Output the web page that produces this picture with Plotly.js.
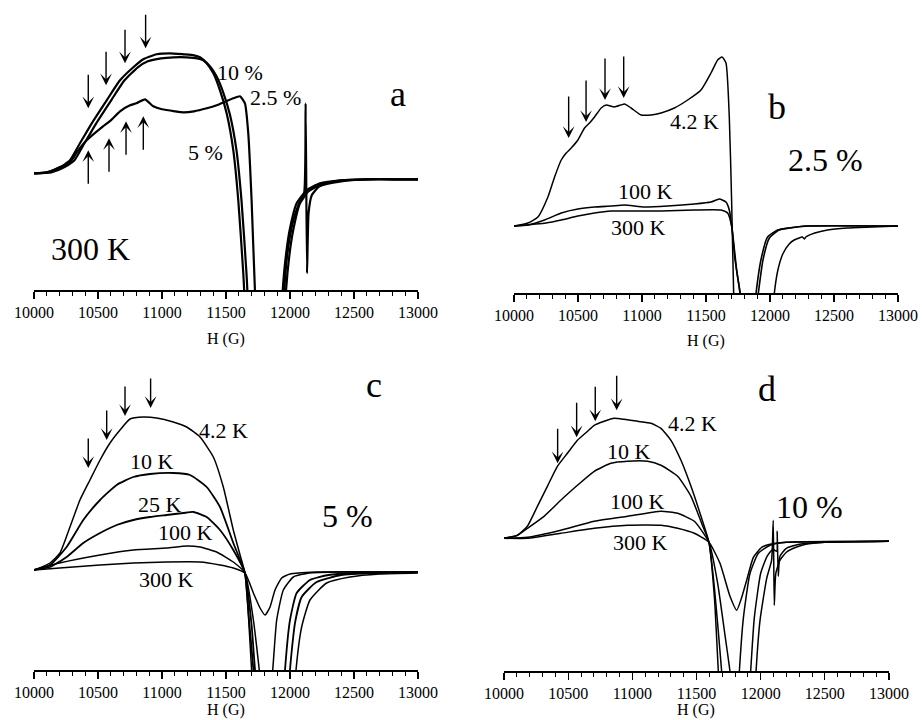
<!DOCTYPE html>
<html><head><meta charset="utf-8">
<script src="https://cdn.plot.ly/plotly-3.0.1.min.js"></script>
<style>html,body{margin:0;padding:0;background:#fff}#chart{width:922px;height:720px}</style>
</head><body><div id="chart"></div>
<script>
// ---------- Panel a (300 K, three concentrations) ----------
const a10H = [10000,10100,10150,10200,10240,10281,10359,10451,10568,10672,10776,10854,10958,11060,11167,11250,11297,11349,11401,11453,11505,11557,11596,11635,11660,11750,11850,11920,11943,11970,12000,12052,12130,12234,12400,12600,12800,13000];
const a10V = [0,1,3,6,9,13,30,50,73,93,106,114,119,120,119,118,116,110,100,83,60,23,-27,-100,-160,-280,-300,-180,-117,-80,-55,-30,-17,-10,-7,-6,-6,-6];
const a5H = [10000,10135,10185,10235,10275,10316,10394,10486,10603,10707,10811,10889,10993,11090,11192,11275,11322,11374,11426,11478,11530,11582,11621,11660,11685,11775,11875,11945,11969,11995,12025,12075,12145,12245,12400,12600,12800,13000];
const a5V = [0,1,3,6,9,13,30,50,73,93,106,112,115,116,116,115,113,107,97,81,59,23,-27,-100,-160,-280,-300,-180,-117,-82,-57,-31,-18,-11,-7,-6,-6,-6];
const a25H = [10000,10100,10150,10203,10240,10281,10340,10411,10539,10600,10672,10750,10800,10867,10932,11000,11100,11167,11250,11350,11427,11500,11557,11609,11648,11674,11700,11726,11760,11850,11930,11955,11980,12020,12070,12110,12122,12133,12145,12170,12230,12400,12600,12800,13000];
const a25V = [0,1,3,6,8,11,22,33,47,53,62,68,70,74,67,64,62,61,62,65,68,72,75,77,70,40,-27,-117,-200,-300,-200,-117,-80,-50,-30,-20,70,-100,-40,-22,-13,-8,-6,-6,-6];
const aLabels = ["10 %", "2.5 %", "5 %"];
const aLabelH = [11609, 11883, 11336];
const aLabelV = [101, 76, 21];
const aDownH = [10424, 10563, 10711, 10872];
const aDownV = [65, 88, 110, 125];
const aUpH = [10424, 10586, 10719, 10854];
const aUpV = [23, 35, 52, 57];

// ---------- Panel b (2.5 %) ----------
const b4H = [10000,10109,10187,10265,10317,10369,10408,10447,10499,10551,10590,10629,10681,10720,10785,10863,10915,10993,11071,11149,11253,11357,11461,11539,11591,11625,11656,11682,11700,11716,11740,11850,11980,12034,12060,12100,12150,12189,12254,12268,12280,12350,12449,12600,12800,13000];
const b4V = [0,3,9,29,49,66,73,78,86,98,103,109,118,121,119,122,118,111,111,113,118,126,136,153,166,169,163,109,26,-67,-150,-250,-150,-67,-45,-28,-18,-14,-11,-13,-11,-7,-4,-2,-1,0];
const b100H = [10000,10109,10239,10369,10499,10629,10759,10863,11019,11201,11409,11539,11604,11656,11682,11708,11740,11766,11800,11850,11891,11929,11981,12059,12150,12270,13000];
const b100V = [0,1,6,13,17,19,20,21,19,20,22,24,27,24,16,-7,-45,-67,-120,-120,-67,-34,-11,-4,-2,0,0];
const b300H = [10000,10250,10369,10499,10629,10759,10889,11149,11409,11617,11669,11700,11726,11766,11800,11860,11909,11945,11995,12070,12150,12300,13000];
const b300V = [0,3,6,10,13,15,15,15,16,16,13,0,-33,-67,-120,-120,-67,-34,-12,-4,-2,0,0];
const bLabels = ["4.2 K", "100 K", "300 K"];
const bLabelH = [11414, 11031, 10969];
const bLabelV = [105, 35, -1];
const bDownH = [10427, 10563, 10711, 10857];
const bDownV = [88, 104, 126, 128];

// ---------- Panel c (5 %) ----------
const c4H = [10000,10125,10203,10281,10359,10437,10516,10594,10672,10750,10854,10958,11088,11193,11297,11401,11479,11557,11610,11648,11675,11700,11760,11850,12000,12047,12091,12156,12286,12469,12700,13000];
const c4V = [0,7,17,43,70,90,110,127,140,151,153,152,148,143,133,113,83,40,15,-3,-45,-100,-200,-260,-200,-100,-57,-30,-13,-7,-4,-3];
const c10H = [10000,10125,10255,10385,10516,10646,10776,10906,11088,11219,11349,11453,11557,11648,11680,11714,11760,11900,11980,12000,12039,12091,12208,12400,12700,13000];
const c10V = [0,5,23,50,70,85,93,96,97,95,83,63,27,-3,-50,-100,-200,-250,-180,-100,-53,-27,-12,-5,-3,-2];
const c25H = [10000,10125,10255,10385,10516,10646,10776,10906,11036,11167,11245,11349,11453,11557,11648,11700,11727,11800,11900,11940,11961,12000,12052,12156,12300,12500,13000];
const c25V = [0,3,13,27,37,45,50,53,55,57,58,53,40,20,-3,-55,-100,-180,-200,-150,-100,-50,-23,-10,-5,-3,-2];
const c100H = [10000,10200,10516,10776,11036,11193,11297,11427,11557,11648,11714,11760,11800,11840,11865,11896,11948,12026,12150,12400,13000];
const c100V = [0,7,15,20,22,24,23,18,8,-3,-50,-100,-150,-130,-100,-50,-20,-7,-3,-2,-2];
const c300H = [10000,10200,10516,10776,11036,11297,11453,11557,11648,11714,11766,11805,11844,11883,11935,12000,12200,13000];
const c300V = [0,2,5,7,8,8,5,2,-3,-23,-38,-45,-37,-20,-8,-4,-2,-2];
const cLabels = ["4.2 K", "10 K", "25 K", "100 K", "300 K"];
const cLabelH = [11484, 10922, 10984, 11180, 11039];
const cLabelV = [140, 109, 66, 38, -9];
const cDownH = [10424, 10568, 10711, 10911];
const cDownV = [102, 130, 154, 162];

// ---------- Panel d (10 %) ----------
const d4H = [10000,10104,10182,10260,10338,10416,10494,10572,10651,10703,10781,10859,10937,11041,11145,11223,11301,11379,11457,11535,11597,11640,11670,11720,11850,11940,11964,11995,12047,12085,12098,12106,12118,12150,12200,12255,12350,12500,13000];
const d4V = [0,3,12,32,52,72,85,98,107,113,117,120,119,117,115,110,98,78,52,22,-4,-60,-133,-250,-300,-200,-133,-82,-40,-22,18,-67,-35,-22,-14,-10,-6,-4,-3];
const d10H = [10000,10104,10182,10312,10442,10572,10703,10833,10963,11119,11223,11353,11457,11540,11597,11640,11696,11750,11860,11900,11922,11950,12000,12050,12095,12125,12129,12137,12150,12200,12300,12500,13000];
const d10V = [0,3,10,22,38,53,67,75,77,77,73,62,42,15,-4,-50,-133,-230,-250,-180,-133,-80,-35,-18,-11,-13,7,-38,-18,-10,-6,-4,-3];
const d100H = [10000,10182,10442,10703,10963,11223,11353,11483,11597,11665,11720,11761,11800,11820,11834,11865,11917,11982,12073,12200,13000];
const d100V = [0,1,8,17,22,27,25,17,-4,-45,-95,-133,-180,-170,-133,-80,-35,-15,-7,-4,-3];
const d300H = [10000,10182,10442,10703,10963,11223,11353,11483,11597,11683,11761,11813,11850,11891,11943,12008,12073,12200,13000];
const d300V = [0,0,5,10,13,13,10,5,-4,-25,-58,-72,-60,-42,-19,-9,-6,-4,-3];
const dLabels = ["4.2 K", "10 K", "100 K", "300 K"];
const dLabelH = [11465, 10974, 11044, 11060];
const dLabelV = [115, 87, 37, -4];
const dDownH = [10418, 10566, 10711, 10878];
const dDownV = [75, 101, 117, 128];

// panel letters and big labels
const letters = ["a", "b", "c", "d"];
const letterH = [12844, 12055, 12656, 12049];
const letterV = [79, 119, 185, 149];
const bigLabels = ["300 K", "2.5 %", "5 %", "10 %"];
const bigH = [10445, 12437, 12453, 12384];
const bigV = [-76, 66, 54, 31];
const axisTitle = "H (G)";

// ---------- build ----------
const FONT = "'Liberation Serif', 'Times New Roman', Times, serif";
function tr(x, y, ax, w) {
  return {x: x, y: y, xaxis: 'x' + ax, yaxis: 'y' + ax, type: 'scatter', mode: 'lines',
          line: {color: '#000', width: w, shape: 'spline', smoothing: 0.5}, hoverinfo: 'skip'};
}
const data = [
  tr(a10H, a10V, '', 2.2), tr(a5H, a5V, '', 2.2), tr(a25H, a25V, '', 2.2),
  tr(b4H, b4V, '2', 1.5), tr(b100H, b100V, '2', 1.6), tr(b300H, b300V, '2', 1.6),
  tr(c4H, c4V, '3', 1.5), tr(c10H, c10V, '3', 1.8), tr(c25H, c25V, '3', 1.8), tr(c100H, c100V, '3', 1.5), tr(c300H, c300V, '3', 1.5),
  tr(d4H, d4V, '4', 1.5), tr(d10H, d10V, '4', 1.5), tr(d100H, d100V, '4', 1.5), tr(d300H, d300V, '4', 1.5)
];

function xax(domain, anchor) {
  return {domain: domain, anchor: anchor, range: [10000, 13000], tick0: 10000, dtick: 500, tickformat: 'd',
          ticks: 'outside', ticklen: 7, tickwidth: 1.2, tickcolor: '#000',
          minor: {dtick: 100, ticks: 'outside', ticklen: 4, tickwidth: 1, tickcolor: '#000'},
          showline: true, linecolor: '#000', linewidth: 1.5, showgrid: false, zeroline: false,
          tickfont: {family: FONT, size: 16, color: '#000'},
          fixedrange: true, automargin: false};
}
function yax(domain, range, anchor) {
  return {domain: domain, range: range, anchor: anchor, visible: false, showgrid: false, zeroline: false, fixedrange: true};
}

const ann = [];
function lab(texts, hs, vs, ax, size) {
  for (let i = 0; i < texts.length; i++) {
    ann.push({xref: 'x' + ax, yref: 'y' + ax, x: hs[i], y: vs[i], text: texts[i], showarrow: false,
              xanchor: 'center', yanchor: 'middle', font: {family: FONT, size: size, color: '#000'}});
  }
}
function arr(hs, vs, ax, ay) {
  for (let i = 0; i < hs.length; i++) {
    ann.push({xref: 'x' + ax, yref: 'y' + ax, x: hs[i], y: vs[i], text: '', showarrow: true,
              ax: 0, ay: ay, arrowhead: 3, arrowsize: 1.4, arrowwidth: 1.4, arrowcolor: '#000'});
  }
}
lab(aLabels, aLabelH, aLabelV, '', 22);
lab(bLabels, bLabelH, bLabelV, '2', 22);
lab(cLabels, cLabelH, cLabelV, '3', 22);
lab(dLabels, dLabelH, dLabelV, '4', 22);
const axIds = ['', '2', '3', '4'];
for (let i = 0; i < 4; i++) {
  lab([letters[i]], [letterH[i]], [letterV[i]], axIds[i], 36);
  lab([bigLabels[i]], [bigH[i]], [bigV[i]], axIds[i], 32);
}
arr(aDownH, aDownV, '', -35);
arr(aUpH, aUpV, '', 35);
arr(bDownH, bDownV, '2', -43);
arr(cDownH, cDownV, '3', -31);
arr(dDownH, dDownV, '4', -36);

// axis titles placed under each axis (paper coordinates)
const titlePos = [[226/922, 1 - 339/720], [706/922, 1 - 341/720], [226/922, 1 - 710/720], [696/922, 1 - 710/720]];
titlePos.forEach(p => ann.push({xref: 'paper', yref: 'paper', x: p[0], y: p[1], text: axisTitle, showarrow: false,
  xanchor: 'center', yanchor: 'middle', font: {family: FONT, size: 16, color: '#000'}}));

const layout = {
  width: 922, height: 720, margin: {l: 0, r: 0, t: 0, b: 0},
  paper_bgcolor: '#fff', plot_bgcolor: 'rgba(0,0,0,0)', showlegend: false,
  font: {family: FONT, color: '#000'},
  xaxis: xax([34/922, 418/922], 'y'),
  yaxis: yax([1 - 290/720, 1], [-116.7, 173.3], 'x'),
  xaxis2: xax([514/922, 898/922], 'y2'),
  yaxis2: yax([1 - 293/720, 1], [-67, 226], 'x2'),
  xaxis3: xax([34/922, 418/922], 'y3'),
  yaxis3: yax([1 - 670/720, 1 - 360/720], [-100, 210], 'x3'),
  xaxis4: xax([504/922, 889/922], 'y4'),
  yaxis4: yax([1 - 671/720, 1 - 360/720], [-132.7, 178.3], 'x4'),
  annotations: ann
};
Plotly.newPlot('chart', data, layout, {staticPlot: true, displayModeBar: false});
</script></body></html>
